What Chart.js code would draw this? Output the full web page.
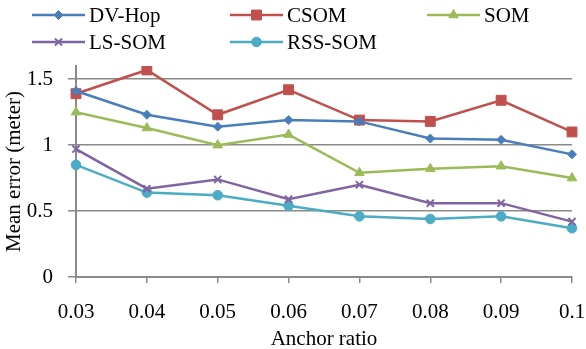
<!DOCTYPE html>
<html>
<head>
<meta charset="utf-8">
<script src="https://cdn.jsdelivr.net/npm/chart.js@4/dist/chart.umd.min.js"></script>
<style>
  html, body { margin: 0; padding: 0; background: #fff; }
  #wrap { width: 586px; height: 349px; }
</style>
</head>
<body>
<div id="wrap"><canvas id="chart" width="586" height="349"></canvas></div>
<script>
const anchorRatios = ['0.03', '0.04', '0.05', '0.06', '0.07', '0.08', '0.09', '0.1'];
const dvHop  = [1.41, 1.23, 1.14, 1.19, 1.18, 1.05, 1.04, 0.93];
const csom   = [1.39, 1.57, 1.23, 1.42, 1.19, 1.18, 1.34, 1.10];
const som    = [1.25, 1.13, 1.00, 1.08, 0.79, 0.82, 0.84, 0.75];
const lsSom  = [0.97, 0.67, 0.74, 0.59, 0.70, 0.56, 0.56, 0.42];
const rssSom = [0.85, 0.64, 0.62, 0.54, 0.46, 0.44, 0.46, 0.37];

const serif = "'Liberation Serif', serif";
const axisGray = '#8a8a8a';
const fontSize = 21;

function series(label, data, color, style, radius) {
    return {
        label: label,
        data: data,
        borderColor: color,
        backgroundColor: color,
        borderWidth: 2.5,
        pointStyle: style,
        pointRadius: radius,
        pointBorderWidth: style === 'crossRot' ? 2 : 1,
        pointBorderColor: color,
        tension: 0
    };
}

// legend: two rows, three columns, line + marker + name
const legendPlugin = {
    id: 'lineLegend',
    afterDraw(chart) {
        const ctx = chart.ctx;
        const cols = [32, 230, 427];
        const rows = [15, 42];
        chart.data.datasets.forEach((ds, i) => {
            const x = cols[i % 3];
            const y = rows[Math.floor(i / 3)];
            ctx.save();
            ctx.strokeStyle = ds.borderColor;
            ctx.lineWidth = 2.5;
            ctx.beginPath();
            ctx.moveTo(x, y);
            ctx.lineTo(x + 53, y);
            ctx.stroke();
            ctx.fillStyle = ds.backgroundColor;
            ctx.lineWidth = ds.pointBorderWidth;
            Chart.helpers.drawPoint(ctx, {pointStyle: ds.pointStyle, radius: ds.pointRadius, borderWidth: ds.pointBorderWidth}, x + 26.5, y);
            ctx.fillStyle = '#000';
            ctx.font = fontSize + 'px ' + serif;
            ctx.textBaseline = 'middle';
            ctx.fillText(ds.label, x + 57, y + 1);
            ctx.restore();
        });
    }
};

function draw() {
    new Chart(document.getElementById('chart'), {
        type: 'line',
        data: {
            labels: anchorRatios,
            datasets: [
                series('DV-Hop', dvHop, '#4a7ebb', 'rectRot', 4.5),
                series('CSOM', csom, '#c0504d', 'rect', 7),
                series('SOM', som, '#9bbb59', 'triangle', 5.5),
                series('LS-SOM', lsSom, '#8064a2', 'crossRot', 5),
                series('RSS-SOM', rssSom, '#4bacc6', 'circle', 4.8)
            ]
        },
        plugins: [legendPlugin],
        options: {
            responsive: false,
            animation: false,
            layout: { padding: { top: 66, right: 0, left: 0, bottom: 0 } },
            plugins: {
                legend: { display: false },
                tooltip: { enabled: false }
            },
            scales: {
                x: {
                    offset: false,
                    afterFit(scale) {
                        scale.height = 72;
                        // plot ends at x=572, last label may run to the edge
                        scale.paddingLeft = 0;
                        scale.paddingRight = 14;
                    },
                    grid: { drawOnChartArea: false, drawTicks: true, tickLength: 6, color: axisGray, lineWidth: 1.5 },
                    border: { color: axisGray, width: 2 },
                    ticks: { color: '#000', font: { family: serif, size: fontSize }, padding: 17, maxRotation: 0 },
                    title: { display: true, text: 'Anchor ratio', color: '#000', font: { family: serif, size: fontSize }, padding: { top: 0, bottom: -3 } }
                },
                y: {
                    min: 0,
                    max: 1.6,
                    afterFit(scale) { scale.width = 76; },
                    grid: { color: axisGray, lineWidth: 1.5, tickLength: 8 },
                    border: { color: axisGray, width: 2 },
                    ticks: {
                        stepSize: 0.5,
                        includeBounds: false,
                        color: '#000',
                        font: { family: serif, size: fontSize },
                        padding: 15,
                        callback: v => String(parseFloat(v.toFixed(2)))
                    },
                    title: { display: true, text: 'Mean error (meter)', color: '#000', font: { family: serif, size: fontSize }, padding: { top: 2, bottom: 0 } }
                }
            }
        }
    });
}

document.fonts.load(fontSize + "px 'Liberation Serif'").then(draw, draw);
</script>
</body>
</html>
